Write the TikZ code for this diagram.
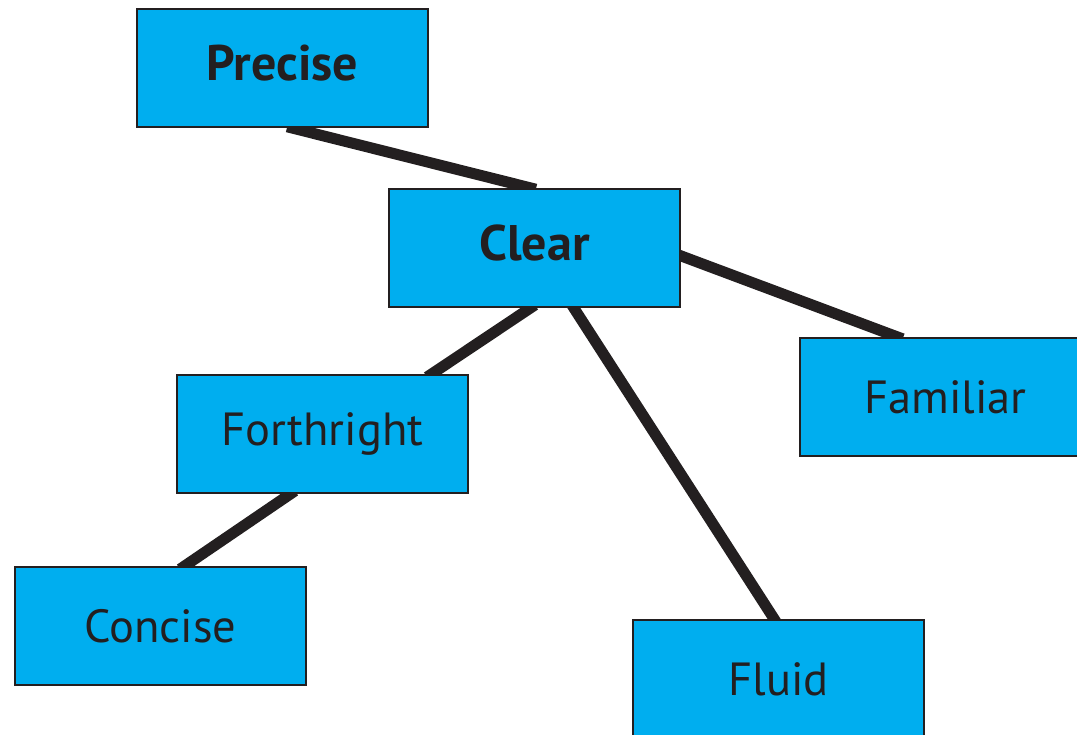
\documentclass[tikz,border=0pt]{standalone}
\usepackage{fontspec}
\setmainfont{PT Sans}
\usetikzlibrary{calc,backgrounds}
\definecolor{boxfill}{HTML}{00AEEF}
\definecolor{ink}{HTML}{231F20}
\tikzset{
  term/.style={draw=ink, line width=2.5pt, fill=boxfill, minimum width=291pt,
    minimum height=118pt, inner sep=0pt, text=ink, font=\fontsize{46.5}{50}\selectfont},
  keyterm/.style={term, font=\fontsize{50}{53}\selectfont\bfseries,
    text depth=10pt},
  link/.style={draw=ink, line width=11pt, shorten <=-6pt, shorten >=-6pt}
}
\begin{document}
\begin{tikzpicture}[x=1pt,y=-1pt]
  \useasboundingbox (0,0) rectangle (1077,735);
  \clip (0,0) rectangle (1077,735);
  \node[keyterm] (precise) at (282.5,68) {Precise};
  \node[keyterm] (clear) at (534.5,248) {Clear};
  \node[term] (forthright) at (322.5,434) {Forthright};
  \node[term] (familiar) at (945.5,397) {Familiar};
  \node[term] (concise) at (160.5,626) {Concise};
  \node[term] (fluid) at (778.5,679) {Fluid};
  \begin{scope}[on background layer]
    \draw[link] ($(precise.south)+(10.5,0)$) -- ($(clear.north)+(-4.5,0)$);
    \draw[link] ($(clear.east)+(0,8)$) -- ($(familiar.north)+(-48.5,0)$);
    \draw[link] ($(clear.south)+(-4.5,0)$) -- ($(forthright.north)+(109.5,0)$);
    \draw[link] ($(clear.south)+(39.5,0)$) -- ($(fluid.north)+(-4.5,0)$);
    \draw[link] ($(forthright.south)+(-32.5,0)$) -- ($(concise.north)+(24.5,0)$);
  \end{scope}
\end{tikzpicture}
\end{document}
